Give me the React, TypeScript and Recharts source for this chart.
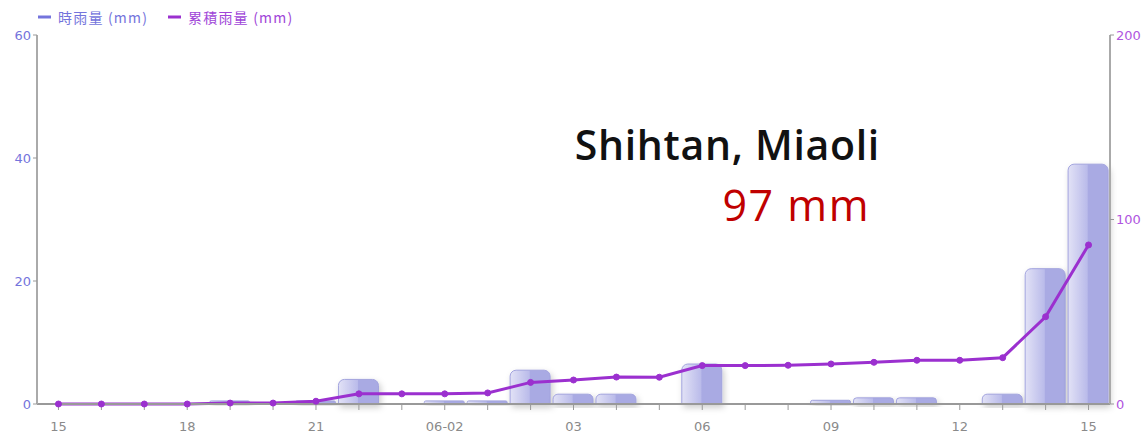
import { ComposedChart, Bar, Line, XAxis, YAxis } from 'recharts';

const hours = [
  '15', '16', '17', '18', '19', '20', '21', '22', '23', '06-02', '01', '02', '03',
  '04', '05', '06', '07', '08', '09', '10', '11', '12', '13', '14', '15',
];
const hourlyRain = [
  0, 0, 0, 0, 0.5, 0, 0.5, 4, 0, 0.5, 0.5, 5.5, 1.6,
  1.6, 0, 6.5, 0, 0, 0.6, 1, 1, 0, 1.6, 22, 39,
];
const totalRain = [
  0, 0, 0, 0, 0.5, 0.5, 1.5, 5.5, 5.5, 5.5, 6, 11.7, 13,
  14.6, 14.5, 20.8, 20.8, 21, 21.7, 22.6, 23.7, 23.7, 25.1, 47.3, 86.2,
];
const leftTicks = [0, 20, 40, 60];
const rightTicks = [0, 100, 200];

// zero hours get no bar at all
const data = hours.map((h, i) => ({
  key: `${h}-${i}`,
  label: h,
  hourly: hourlyRain[i] > 0 ? hourlyRain[i] : null,
  total: totalRain[i],
}));

const BLUE = '#7474dc';
const PURPLE = '#9b30cf';

function HourTick(props: any) {
  const { x, y, payload, index } = props;
  if (index % 3 !== 0) return null;
  return (
    <text x={x} y={y + 19} textAnchor="middle" fill="#8a8a8a" fontSize={13} fontFamily="DejaVu Sans">
      {hours[index] ?? payload.value}
    </text>
  );
}

export default function App() {
  return (
    <div style={{ position: 'absolute', left: 0, top: 0, width: 1145, height: 441, background: '#fff' }}>
      <ComposedChart width={1145} height={441} data={data} margin={{ top: 35, right: 0, bottom: 0, left: 0 }}>
        <defs>
          <linearGradient id="barGrad" x1="0" y1="0" x2="1" y2="0">
            <stop offset="0%" stopColor="#e2e2f6" />
            <stop offset="48%" stopColor="#babbea" />
            <stop offset="50%" stopColor="#a9aae3" />
            <stop offset="100%" stopColor="#a9aae3" />
          </linearGradient>
          <filter id="barShadow" x="-20%" y="-20%" width="140%" height="160%">
            <feDropShadow dx="2" dy="3" stdDeviation="3" floodColor="#000" floodOpacity="0.2" />
          </filter>
        </defs>
        <XAxis
          dataKey="key"
          interval={0}
          tick={<HourTick />}
          tickLine={{ stroke: '#999' }}
          tickSize={6}
          axisLine={{ stroke: '#999', strokeWidth: 2 }}
          height={37}
        />
        <YAxis
          yAxisId="left"
          domain={[0, 60]}
          ticks={leftTicks}
          width={37}
          tick={{ fill: BLUE, fontSize: 13, fontFamily: 'DejaVu Sans' }}
          tickLine={{ stroke: '#999' }}
          tickSize={4}
          axisLine={{ stroke: '#aaa', strokeWidth: 2 }}
        />
        <YAxis
          yAxisId="right"
          orientation="right"
          domain={[0, 200]}
          ticks={rightTicks}
          width={35}
          tick={{ fill: '#b055e0', fontSize: 13, fontFamily: 'DejaVu Sans' }}
          tickLine={{ stroke: '#999' }}
          tickSize={4}
          axisLine={{ stroke: '#aaa', strokeWidth: 2 }}
        />
        <Bar
          yAxisId="left"
          dataKey="hourly"
          barSize={40}
          fill="url(#barGrad)"
          stroke="#a2a3de"
          radius={[6, 6, 0, 0]}
          style={{ filter: 'url(#barShadow)' }}
          isAnimationActive={false}
        />
        <Line
          yAxisId="right"
          type="linear"
          dataKey="total"
          stroke={PURPLE}
          strokeWidth={3}
          dot={{ r: 3, fill: PURPLE, stroke: PURPLE, strokeWidth: 1 }}
          activeDot={false}
          isAnimationActive={false}
        />
      </ComposedChart>
      <svg width={1145} height={441} style={{ position: 'absolute', left: 0, top: 0, pointerEvents: 'none' }}>
        <line x1={38} y1={17} x2={51} y2={17} stroke={BLUE} strokeWidth={3} />
        <text x={58} y={23} fill={BLUE} fontSize={14} letterSpacing={1.2} fontFamily="'Noto Sans CJK TC', 'DejaVu Sans'">時雨量 (mm)</text>
        <line x1={168} y1={17} x2={181} y2={17} stroke={PURPLE} strokeWidth={3} />
        <text x={188} y={23} fill="#a045d8" fontSize={14} letterSpacing={1.2} fontFamily="'Noto Sans CJK TC', 'DejaVu Sans'">累積雨量 (mm)</text>
        <text x={880} y={160} textAnchor="end" fill="#111" fontSize={41} fontWeight={600} letterSpacing={0.7} fontFamily="'Open Sans'">
          Shihtan, Miaoli
        </text>
        <text x={870} y={221} textAnchor="end" fill="#c00000" fontSize={43} letterSpacing={1.5} fontFamily="'Open Sans'">
          97 mm
        </text>
      </svg>
    </div>
  );
}
